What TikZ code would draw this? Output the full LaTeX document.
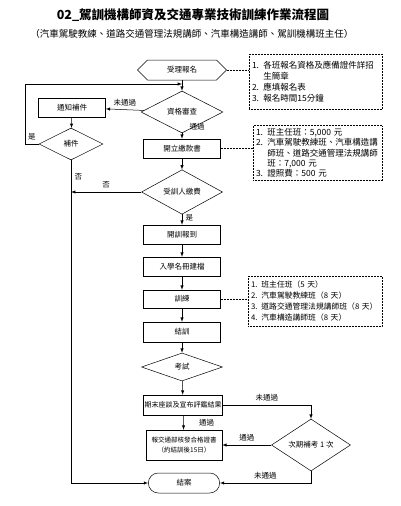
\documentclass[tikz,border=0pt]{standalone}
\usepackage{fontspec}
\setmainfont{Noto Sans CJK TC}
\usetikzlibrary{shapes.geometric,shapes.misc,shapes.symbols}

\begin{document}
\begin{tikzpicture}[x=1pt, y=-1pt, >=latex, line width=0.5pt,
    box/.style={draw, rectangle, minimum width=77pt, minimum height=19pt, inner sep=1pt, font=\fontsize{7.5}{9}\selectfont},
    choice/.style={draw, diamond, inner sep=0pt, font=\fontsize{7.5}{9}\selectfont},
    note/.style={draw, densely dotted, inner sep=3pt, align=left, font=\fontsize{8.5}{11}\selectfont},
    lbl/.style={font=\fontsize{7.5}{9}\selectfont}]
      \useasboundingbox (0,0) rectangle (400,506);

      \node (title) at (193,15) {\fontsize{12.5}{14}\selectfont\bfseries 02\_駕訓機構師資及交通專業技術訓練作業流程圖};
      \node (subtitle) at (192,34) {\fontsize{9.5}{11}\selectfont （汽車駕駛教練、道路交通管理法規講師、汽車構造講師、駕訓機構班主任）};

      \node[draw, signal, signal to=west and east, signal pointer angle=90, minimum width=89pt, minimum height=20pt, inner sep=1pt, font=\fontsize{7.5}{9}\selectfont] (apply) at (182,70) {受理報名};
      \node[choice, minimum width=82pt, minimum height=42pt] (check) at (182,112) {資格審查};
      \node[box, minimum width=67pt] (notify) at (72,107.5) {通知補件};
      \node[choice, minimum width=64pt, minimum height=32pt] (supply) at (71,144) {補件};
      \node[box] (bill) at (182,148.5) {開立繳款書};
      \node[choice, minimum width=81pt, minimum height=34pt] (pay) at (182,192) {受訓人繳費};
      \node[box] (report) at (182,234.5) {開訓報到};
      \node[box] (roster) at (182,266.5) {入學名冊建檔};
      \node[box, minimum height=18pt] (train) at (182,299) {訓練};
      \node[box, minimum height=20pt] (finish) at (182,332) {結訓};
      \node[choice, minimum width=81pt, minimum height=28pt] (exam) at (182,367) {考試};
      \node[box, minimum width=78pt, minimum height=20pt, font=\fontsize{7}{8}\selectfont] (review) at (183,405) {期末座談及宣布評鑑結果};
      \node[box, minimum width=76pt, minimum height=30pt, align=center, font=\fontsize{6.5}{10}\selectfont] (cert) at (184,445) {報交通部核發合格證書\\（約結訓後15日）};
      \node[draw, rounded rectangle, minimum width=78pt, minimum height=20pt, font=\fontsize{7.5}{9}\selectfont] (close) at (184,483) {結案};
      \node[choice, minimum width=79pt, minimum height=32pt] (retest) at (311,445) {次期補考 1 次};

      \node[note, text width=127pt, minimum height=55pt] (note1) at (315.5,81.5) {1. 各班報名資格及應備證件詳招\\\phantom{1. }生簡章\\2. 應填報名表\\3. 報名時間15分鐘};
      \node[note, text width=123pt, minimum height=54pt, font=\fontsize{8.5}{10.3}\selectfont] (note2) at (317.5,153) {1. 班主任班：5,000 元\\2. 汽車駕駛教練班、汽車構造講\\\phantom{2. }師班、道路交通管理法規講師\\\phantom{2. }班：7,000 元\\3. 證照費：500 元};
      \node[note, text width=128pt, minimum height=50pt, font=\fontsize{7.8}{11}\selectfont] (note3) at (315,301) {1. 班主任班（5~天）\\2. 汽車駕駛教練班（8~天）\\3. 道路交通管理法規講師班（8~天）\\4. 汽車構造講師班（8~天）};

      \coordinate (join) at (182,84);
      \draw (apply) -- (join);
      \draw[->] (join) -- (check);
      \draw[->] (check) -- node[lbl, above] {未通過} (notify);
      \draw[->] (notify) -- (supply);
      \draw[->] (supply.west) -- node[lbl, above] {是} ++(-14,0) |- (join);
      \draw[->] (check) -- node[lbl, pos=0, anchor=south west, xshift=4pt] {通過} (bill);
      \draw[->] (bill) -- (pay);
      \draw[->] (pay) -- node[lbl, above] {否} (pay -| supply);
      \draw[->] (supply) -- node[lbl, right, pos=0.05] {否} (supply |- close) -- (close);
      \draw[->] (pay) -- node[lbl, right, pos=0.3] {是} (report);
      \draw[->] (report) -- (roster);
      \draw[->] (roster) -- (train);
      \draw[->] (train) -- (finish);
      \draw[->] (finish) -- (exam);
      \draw[->] (exam) -- (review);
      \draw[->] (review) -- node[lbl, right, xshift=12pt] {通過} (cert);
      \draw[->] (review) -| node[lbl, above, pos=0.25] {未通過} (retest);
      \draw[->] (retest) -- node[lbl, above] {通過} (cert);
      \draw[->] (retest) |- node[lbl, above, pos=0.75] {未通過} (close);

      \draw[densely dotted] (apply.east) -- (apply.east -| note1.west);
      \draw[densely dotted] (bill.east) -- (bill.east -| note2.west);
      \draw[densely dotted] (train.east) -- (train.east -| note3.west);
    \end{tikzpicture}
\end{document}
